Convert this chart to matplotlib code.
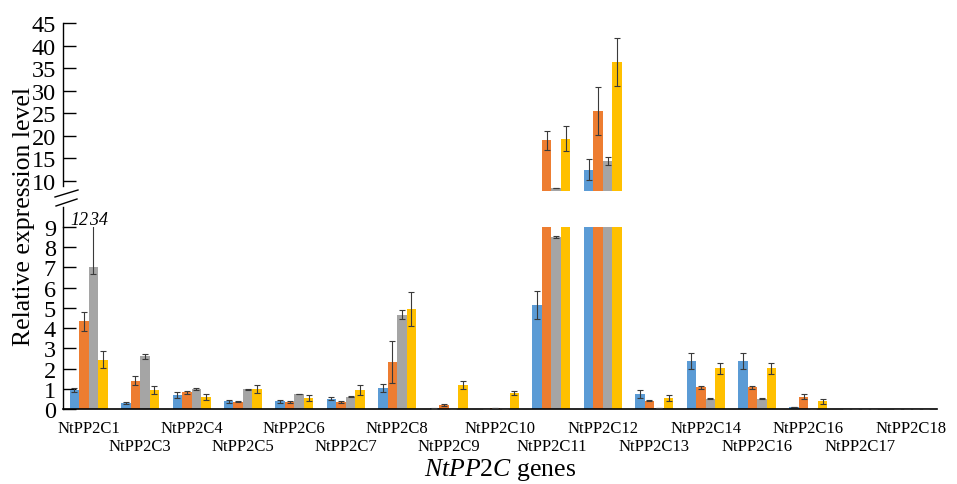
import numpy as np
import matplotlib
matplotlib.use("Agg")
import matplotlib.pyplot as plt
from matplotlib.lines import Line2D

plt.rcParams['font.family'] = ['Liberation Serif', 'DejaVu Serif']
plt.rcParams['mathtext.fontset'] = 'custom'
plt.rcParams['mathtext.rm'] = 'Liberation Serif'
plt.rcParams['mathtext.it'] = 'Liberation Serif:italic'

genes = ["NtPP2C1", "NtPP2C3", "NtPP2C4", "NtPP2C5", "NtPP2C6", "NtPP2C7",
         "NtPP2C8", "NtPP2C9", "NtPP2C10", "NtPP2C11", "NtPP2C12", "NtPP2C13",
         "NtPP2C14", "NtPP2C16", "NtPP2C16", "NtPP2C17", "NtPP2C18"]
series_names = ["1", "2", "3", "4"]

s1 = [0.95, 0.30, 0.71, 0.38, 0.38, 0.50, 1.04, 0.03, 0.00, 5.15, 12.5, 0.76, 2.36, 2.36, 0.10, 0.0, 0.0]
s2 = [4.34, 1.40, 0.83, 0.36, 0.35, 0.33, 2.33, 0.20, 0.05, 19.0, 25.5, 0.41, 1.07, 1.07, 0.61, 0.0, 0.0]
s3 = [7.03, 2.61, 0.97, 0.97, 0.74, 0.61, 4.67, 0.00, 0.00, 8.5, 14.5, 0.05, 0.51, 0.51, 0.00, 0.0, 0.0]
s4 = [2.44, 0.94, 0.59, 0.99, 0.56, 0.94, 4.95, 1.20, 0.78, 19.4, 36.3, 0.54, 2.01, 2.01, 0.38, 0.0, 0.0]

e1 = [0.10, 0.03, 0.15, 0.08, 0.08, 0.07, 0.20, 0.01, 0.00, 0.70, 2.3, 0.20, 0.40, 0.40, 0.02, 0.0, 0.0]
e2 = [0.47, 0.22, 0.08, 0.02, 0.04, 0.05, 1.05, 0.03, 0.02, 2.1, 5.4, 0.03, 0.07, 0.07, 0.14, 0.0, 0.0]
e3_lo = [0.33, 0.12, 0.05, 0.03, 0.02, 0.02, 0.22, 0.00, 0.00, 0.05, 0.9, 0.01, 0.02, 0.02, 0.00, 0.0, 0.0]
e3_hi = [2.30, 0.12, 0.05, 0.03, 0.02, 0.02, 0.22, 0.00, 0.00, 0.05, 0.9, 0.01, 0.02, 0.02, 0.00, 0.0, 0.0]
e4 = [0.42, 0.20, 0.15, 0.22, 0.15, 0.27, 0.85, 0.20, 0.10, 2.7, 5.3, 0.13, 0.27, 0.27, 0.12, 0.0, 0.0]

colors = ["#5B9BD5", "#ED7D31", "#A5A5A5", "#FFC000"]

values = [s1, s2, s3, s4]
errs = [e1, e2, [e3_lo, e3_hi], e4]

LOW_MAX = 9
HIGH_MIN = 7.8

W, H = 957, 485
fig = plt.figure(figsize=(W / 100, H / 100), dpi=100)

def fx(px):
    return px / W

def fy(py):
    return 1 - py / H

ax_lo = fig.add_axes([fx(63), fy(410), fx(937) - fx(63), fy(228) - fy(410)])
ax_hi = fig.add_axes([fx(63), fy(192), fx(937) - fx(63), fy(24) - fy(192)])

x = np.arange(len(genes))
bw = 0.185
offsets = (np.arange(4) - 1.5) * bw

for ax in (ax_lo, ax_hi):
    for i in range(4):
        v = np.asarray(values[i], dtype=float)
        e = np.asarray(errs[i], dtype=float)
        ax.bar(x + offsets[i], v, width=bw, color=colors[i], linewidth=0, zorder=2)
        if ax is ax_hi:
            m = v > HIGH_MIN
        else:
            m = np.ones_like(v, dtype=bool)
        ee = e[..., m] if e.ndim == 2 else e[m]
        ax.errorbar((x + offsets[i])[m], v[m], yerr=ee, fmt='none',
                    ecolor='#3a3a3a', elinewidth=0.8, capsize=2.5, capthick=0.8, zorder=3)
    ax.set_xlim(-0.5, len(genes) - 0.5)
    for sp in ('top', 'right'):
        ax.spines[sp].set_visible(False)
    ax.spines['left'].set_linewidth(1.0)
    ax.tick_params(axis='y', direction='in', length=9, width=1.0, labelsize=17.5, pad=5)

# lower axes
ax_lo.set_ylim(0, LOW_MAX)
ax_lo.set_yticks(range(0, 10))
ax_lo.spines['bottom'].set_linewidth(1.2)
ax_lo.set_xticks(x[::2])
ax_lo.set_xticklabels(genes[::2], fontsize=12)
ax_lo.set_xticks(x[1::2], minor=True)
ax_lo.set_xticklabels(genes[1::2], minor=True, fontsize=12)
ax_lo.tick_params(axis='x', which='major', length=0, pad=8)
ax_lo.tick_params(axis='x', which='minor', length=0, pad=21)
for i, nm in enumerate(series_names):
    ax_lo.text(x[0] + offsets[i], 9.35, nm, fontsize=13, style='italic',
               ha='center', va='center', clip_on=False)
ax_lo.add_line(Line2D([0, 0], [1, 1 + 20 / 182], transform=ax_lo.transAxes,
                      color='black', lw=1.0, clip_on=False))

# upper axes
ax_hi.set_ylim(HIGH_MIN, 45)
ax_hi.set_yticks(range(10, 50, 5))
ax_hi.spines['bottom'].set_visible(False)
ax_hi.spines['left'].set_bounds(8.9, 45)
ax_hi.set_xticks([])

# break marks
for (x0, y0, x1, y1) in [(55, 198, 78, 191), (56, 207, 77, 200)]:
    fig.add_artist(Line2D([fx(x0), fx(x1)], [fy(y0), fy(y1)], transform=fig.transFigure,
                          color='black', lw=1.0))

fig.text(fx(24), fy(217), "Relative expression level", rotation=90, fontsize=18.5,
         ha='center', va='center')
fig.text(fx(500), fy(470), r"$\it{NtPP2C}$ genes", fontsize=18.5, ha='center', va='center')

fig.savefig("out.png", dpi=100)
